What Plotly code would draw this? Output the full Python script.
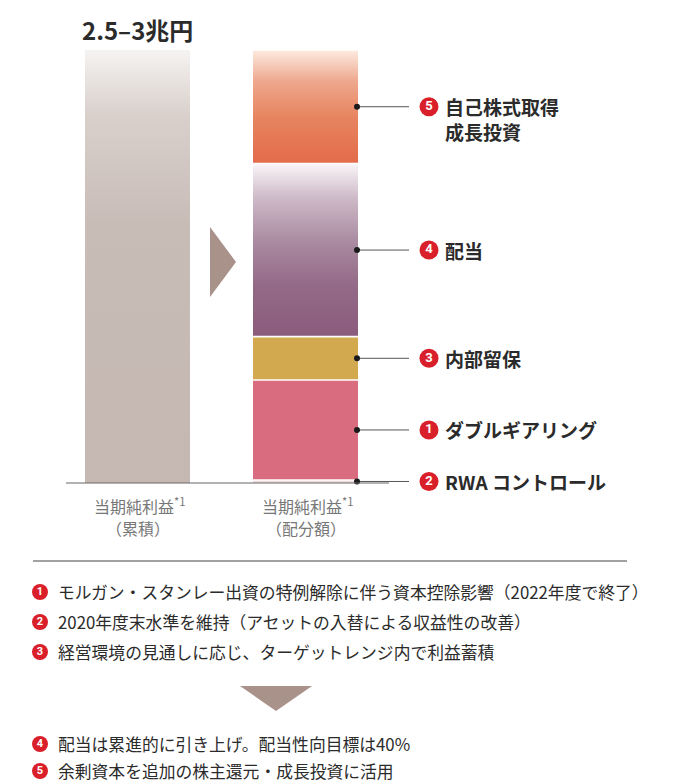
import plotly.graph_objects as go

# ---------------- data ----------------
title_text = "2.5–3兆円"
cat_line1 = ["当期純利益<sup>*1</sup>", "当期純利益<sup>*1</sup>"]
cat_line2 = ["（累積）", "（配分額）"]
cumulative_total = [100.0]                      # left bar (share of 2.5-3兆円)
segment_names = ["RWA コントロール", "ダブルギアリング", "内部留保", "配当", "自己株式取得<br>成長投資"]
segment_nums = ["2", "1", "3", "4", "5"]
segment_values = [0.7, 23.1, 10.0, 40.0, 26.2]   # bottom -> top
footnote_nums = ["1", "2", "3", "4", "5"]
footnotes = [
    "モルガン・スタンレー出資の特例解除に伴う資本控除影響（2022年度で終了）",
    "2020年度末水準を維持（アセットの入替による収益性の改善）",
    "経営環境の見通しに応じ、ターゲットレンジ内で利益蓄積",
    "配当は累進的に引き上げ。配当性向目標は40%",
    "余剰資本を追加の株主還元・成長投資に活用",
]

# ---------------- style / layout ----------------
W, H = 677, 783
PX = 4.33          # pixels per unit
BASE = 483         # pixel row of the baseline
FONT = "Noto Sans CJK JP"
RED = "#d9202a"
TXT = "#2b2b2b"


def py(px_row):
    """pixel row -> data y"""
    return (BASE - px_row) / PX


bar_centers = [137.5, 305.5]
bar_w = 105
gap = 1.6 / PX

seg_styles = [
    dict(solid="#f1dadd"),
    dict(solid="#d96d7f"),
    dict(solid="#d3a950"),
    dict(scale=[[0, "#8b5b7c"], [0.3, "#946a88"], [0.55, "#aa8ba1"], [0.8, "#cdb9c7"], [1, "#f8f4f7"]]),
    dict(scale=[[0, "#e36b4b"], [0.4, "#e7845f"], [0.72, "#eea68c"], [1, "#fce9de"]]),
]
left_scale = [[0, "#c5b8b2"], [0.6, "#c8bcb7"], [0.85, "#d9d0cc"], [1, "#f5f3f2"]]

fig = go.Figure()


def add_rect(xc, y0, y1, style):
    x0, x1 = xc - bar_w / 2, xc + bar_w / 2
    kw = dict(x=[x0, x1, x1, x0, x0], y=[y0, y0, y1, y1, y0], mode="lines",
              fill="toself", line=dict(width=0), hoverinfo="skip", showlegend=False)
    if "solid" in style:
        kw["fillcolor"] = style["solid"]
    else:
        kw["fillgradient"] = dict(type="vertical", colorscale=style["scale"], start=y0, stop=y1)
    fig.add_trace(go.Scatter(**kw))


# left bar
add_rect(bar_centers[0], 0, cumulative_total[0], dict(scale=left_scale))

# right stacked bar
mids = []
base = 0.0
for v, st in zip(segment_values, seg_styles):
    y0 = base + (gap / 2 if base > 0 else 0)
    y1 = base + v - gap / 2
    add_rect(bar_centers[1], y0, y1, st)
    mids.append(base + v / 2)
    base += v

# baseline
fig.add_shape(type="line", x0=66, x1=389, y0=0, y1=0, line=dict(color="#666666", width=1))

# leader lines
edge = bar_centers[1] + bar_w / 2
for m in mids:
    fig.add_trace(go.Scatter(x=[edge - 1, 409], y=[m, m], mode="lines",
                             line=dict(color="#555555", width=1), hoverinfo="skip", showlegend=False))
fig.add_trace(go.Scatter(x=[edge - 1] * len(mids), y=mids, mode="markers",
                         marker=dict(color="#1a1a1a", size=6), hoverinfo="skip", showlegend=False))

# numbered circles for labels
fig.add_trace(go.Scatter(x=[429] * len(mids), y=mids, mode="markers+text", text=segment_nums,
                         textposition="middle center",
                         textfont=dict(color="white", size=13, family="Roboto", weight=700),
                         marker=dict(color=RED, size=19, line=dict(width=0)),
                         hoverinfo="skip", showlegend=False))

for name, m in zip(segment_names, mids):
    multi = "<br>" in name
    fig.add_annotation(x=443, y=m, xref="x", yref="y", text=name, showarrow=False,
                       xanchor="left", yanchor="middle", align="left",
                       yshift=-12 if multi else 0,
                       font=dict(family=FONT, size=19, color=TXT, weight=700))

# title
fig.add_annotation(x=80, y=py(29), text=title_text, showarrow=False, xanchor="left", yanchor="middle",
                   font=dict(family=FONT, size=24, color=TXT, weight=700))

# category labels
for xc, l1, l2 in zip(bar_centers, cat_line1, cat_line2):
    fig.add_annotation(x=xc + 2, y=py(505), text=l1, showarrow=False, xanchor="center", yanchor="middle",
                       font=dict(family=FONT, size=16, color="#777777"))
    fig.add_annotation(x=xc, y=py(528), text=l2, showarrow=False, xanchor="center", yanchor="middle",
                       font=dict(family=FONT, size=16, color="#777777"))

# decorations: arrows and separator
fig.add_shape(type="path", path=f"M 210 {py(227)} L 236 {py(262)} L 210 {py(297)} Z",
              fillcolor="#a8928a", line=dict(width=0))
fig.add_shape(type="path", path=f"M 240 {py(686)} L 312 {py(686)} L 276 {py(711)} Z",
              fillcolor="#a8928a", line=dict(width=0))
fig.add_shape(type="line", x0=33, x1=627, y0=py(561), y1=py(561), line=dict(color="#444444", width=1))

# footnotes
foot_rows = [592, 622, 652, 744, 771]
fig.add_trace(go.Scatter(x=[40] * 5, y=[py(r) for r in foot_rows], mode="markers+text", text=footnote_nums,
                         textposition="middle center",
                         textfont=dict(color="white", size=11, family="Roboto", weight=700),
                         marker=dict(color=RED, size=16, line=dict(width=0)),
                         hoverinfo="skip", showlegend=False))
for r, t in zip(foot_rows, footnotes):
    fig.add_annotation(x=56, y=py(r), text=t, showarrow=False, xanchor="left", yanchor="middle",
                       font=dict(family=FONT, size=16.8, color=TXT))

fig.update_layout(
    width=W, height=H, margin=dict(l=0, r=0, t=0, b=0),
    paper_bgcolor="white", plot_bgcolor="white", showlegend=False,
    xaxis=dict(range=[0, W], visible=False, fixedrange=True),
    yaxis=dict(range=[py(H), py(0)], visible=False, fixedrange=True),
)

fig.write_html("out.html")
